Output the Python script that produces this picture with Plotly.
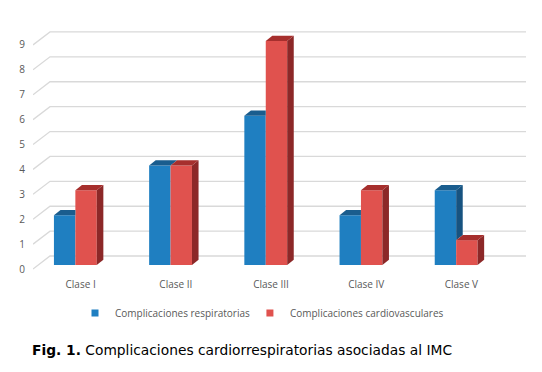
import plotly.graph_objects as go

categories = ["Clase I", "Clase II", "Clase III", "Clase IV", "Clase V"]
respiratorias = [2, 4, 6, 2, 3]
cardiovasculares = [3, 4, 9, 3, 1]
y_ticks = list(range(0, 10))
series_names = ["Complicaciones respiratorias", "Complicaciones cardiovasculares"]
caption = "<b>Fig. 1.</b> Complicaciones cardiorrespiratorias asociadas al IMC"

# style (front, top, side)
front_colors = ["#1f7fc1", "#e0524e"]
top_colors = ["#1a5d8e", "#a62f2d"]
side_colors = ["#175380", "#8c2828"]

BAR_W = 0.225        # width of one bar (category units)
GROUP_SHIFT = -0.055  # perspective shift of bar fronts
BASE = 0.16          # bar front floor (axis units)
DX, DY = 0.069, 0.21  # bar depth projection
WALL_DX, WALL_DY = 0.1786, 0.522  # back wall projection

series_values = [respiratorias, cardiovasculares]
n = len(categories)
xs = list(range(n))

fig = go.Figure()

# front faces of the bars
for k, vals in enumerate(series_values):
    fig.add_trace(go.Bar(
        x=xs, y=vals, base=BASE, width=BAR_W,
        offset=GROUP_SHIFT - BAR_W + k * BAR_W,
        marker=dict(color=front_colors[k], line=dict(width=0)),
        showlegend=False, hoverinfo="skip"))


def poly(pts, color):
    fig.add_trace(go.Scatter(
        x=[p[0] for p in pts] + [pts[0][0]],
        y=[p[1] for p in pts] + [pts[0][1]],
        mode="lines", fill="toself", fillcolor=color,
        line=dict(width=0, color=color),
        showlegend=False, hoverinfo="skip"))


# 3D side and top faces derived from the data
for k, vals in enumerate(series_values):
    for i, v in enumerate(vals):
        xl = i + GROUP_SHIFT - BAR_W + k * BAR_W
        xr = xl + BAR_W
        top = BASE + v
        if k == 0:
            otop = BASE + series_values[1][i]
            if otop < top:
                c = max(BASE, otop)
                poly([(xr, c), (xr, top), (xr + DX, top + DY), (xr + DX, c + DY)], side_colors[k])
                poly([(xl, top), (xr, top), (xr + DX, top + DY), (xl + DX, top + DY)], top_colors[k])
            elif otop == top:
                poly([(xl, top), (xr, top), (xr + DX, top + DY), (xl + DX, top + DY)], top_colors[k])
            else:
                poly([(xl, top), (xr, top), (xr, top + DY), (xl + DX, top + DY)], top_colors[k])
        else:
            poly([(xr, BASE), (xr, top), (xr + DX, top + DY), (xr + DX, BASE + DY)], side_colors[k])
            poly([(xl, top), (xr, top), (xr + DX, top + DY), (xl + DX, top + DY)], top_colors[k])

# legend proxies (one legend per series for exact placement)
legend_refs = ["legend", "legend2"]
for k, name in enumerate(series_names):
    fig.add_trace(go.Scatter(
        x=[None], y=[None], mode="markers", name=name, legend=legend_refs[k],
        marker=dict(symbol="square", size=7, color=front_colors[k])))

# 3D gridlines (side diagonal + back wall)
x0 = -0.5
x_end = n - 0.5 + WALL_DX
for v in y_ticks:
    fig.add_shape(
        type="path", xref="x", yref="y", layer="below",
        path=f"M {x0},{v} L {x0 + WALL_DX},{v + WALL_DY} L {x_end},{v + WALL_DY}",
        line=dict(color="#d9d9d9", width=1.3))

fig.add_annotation(
    text=caption, xref="paper", yref="paper", x=-0.006, y=-0.311,
    xanchor="left", yanchor="middle", showarrow=False,
    font=dict(family="DejaVu Sans", size=13.8, color="#000000"))

legend_style = dict(orientation="h", y=-0.16, xanchor="left", yanchor="middle",
                    font=dict(family="Open Sans", size=10, color="#595959"),
                    bgcolor="rgba(0,0,0,0)")

fig.update_layout(
    width=534, height=364,
    margin=dict(l=25, r=16, t=22, b=98),
    paper_bgcolor="white", plot_bgcolor="white",
    barmode="overlay",
    font=dict(family="Open Sans", size=10, color="#595959"),
    showlegend=True,
    legend=dict(x=0.0852, **legend_style),
    legend2=dict(x=0.440, **legend_style),
    xaxis=dict(range=[x0, x_end], tickvals=xs, ticktext=categories,
               showgrid=False, zeroline=False, showline=False, ticks="",
               ticklabelstandoff=3, fixedrange=True),
    yaxis=dict(range=[-0.2, 9.6], tickvals=y_ticks, showgrid=False,
               zeroline=False, showline=False, ticks="",
               ticklabelstandoff=7, fixedrange=True),
)

fig.write_html("out.html")
